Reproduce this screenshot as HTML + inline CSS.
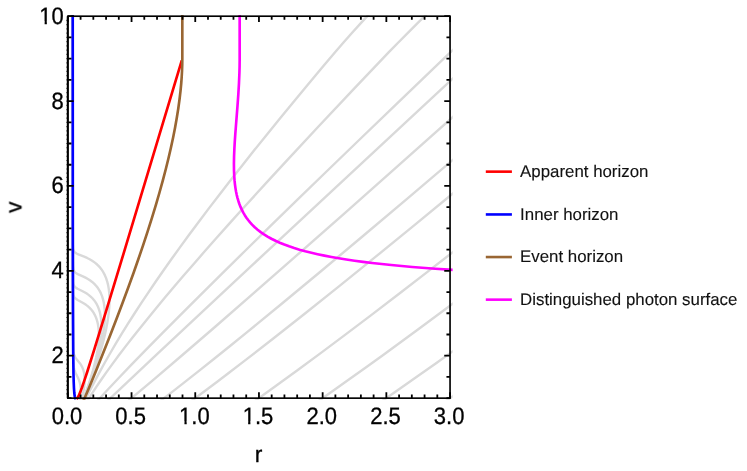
<!DOCTYPE html>
<html><head><meta charset="utf-8"><title>plot</title>
<style>
html,body{margin:0;padding:0;background:#fff;}
body{width:747px;height:471px;overflow:hidden;font-family:"Liberation Sans",sans-serif;}
svg{display:block;}
text{font-family:"Liberation Sans",sans-serif;text-rendering:geometricPrecision;}
</style></head><body>
<svg width="747" height="471" viewBox="0 0 747 471">
<rect width="747" height="471" fill="#fff"/>
<defs><filter id="idf" x="0" y="0" width="747" height="471" filterUnits="userSpaceOnUse" color-interpolation-filters="sRGB"><feOffset dx="0" dy="0"/></filter><clipPath id="cp"><rect x="65" y="14.9" width="387.6" height="384.8"/></clipPath></defs>
<g clip-path="url(#cp)" fill="none" stroke-linejoin="round">
<g stroke="#d9d9d9" stroke-width="2.4"><path d="M445.74 401.12 L455.89 394.12"/><path d="M382.06 401.12 L399.75 388.82 L417.87 376.09 L436.44 362.95 L455.74 349.16"/><path d="M318.41 401.12 L333.80 390.30 L349.93 378.85 L366.51 366.97 L383.54 354.67 L418.63 329.01 L455.81 301.44"/><path d="M254.78 401.12 L276.07 385.85 L298.47 369.52 L322.00 352.13 L346.36 333.89 L371.86 314.59 L398.76 294.02 L426.79 272.39 L455.93 249.70"/><path d="M191.23 401.12 L203.52 392.00 L216.23 382.46 L229.64 372.28 L243.48 361.67 L272.97 338.77 L304.70 313.74 L338.95 286.38 L375.45 256.91 L414.45 225.09 L455.97 190.95"/><path d="M160.16 401.12 L172.56 391.58 L185.61 381.40 L199.59 370.37 L214.49 358.49 L230.04 345.98 L246.52 332.62 L281.72 303.78 L320.34 271.75 L362.12 236.76 L407.32 198.58 L455.95 157.23"/><path d="M127.98 401.12 L152.76 380.34 L181.85 355.52 L215.51 326.47 L253.97 292.96 L297.00 255.21 L345.08 212.79 L397.96 165.92 L455.89 114.39"/><path d="M107.27 401.12 L130.57 379.06 L159.19 352.13 L233.76 282.36 L332.32 190.53 L455.81 75.79"/><path d="M97.26 401.12 L107.17 390.30 L118.72 378.00 L131.71 364.43 L146.34 349.37 L162.61 332.83 L180.53 314.80 L200.08 295.29 L221.49 274.08 L245.19 250.76 L270.54 225.94 L297.74 199.43 L327.03 171.01 L360.15 138.99 L395.36 105.06 L443.73 58.61 L455.98 46.95"/><path d="M84.58 401.12 L89.79 390.73 L94.73 381.19 L99.72 371.86 L104.87 362.53 L110.30 352.98 L115.90 343.44 L121.79 333.69 L127.84 323.93 L134.31 313.75 L141.22 303.15 L148.28 292.55 L155.78 281.52 L163.43 270.49 L171.53 259.04 L179.91 247.38 L188.74 235.29 L198.66 221.93 L209.05 208.15 L219.76 194.15 L230.95 179.73 L242.61 164.89 L254.58 149.83 L267.19 134.14 L280.12 118.24 L293.70 101.70 L307.77 84.72 L323.39 66.06 L335.06 52.27 L343.70 42.29 L352.55 32.32 L361.77 22.14 L371.19 11.96"/><path d="M87.24 401.12 L91.77 393.91 L96.49 386.70 L101.52 379.28 L106.87 371.64 L112.69 363.59 L118.82 355.32 L125.42 346.62 L132.33 337.72 L139.72 328.39 L147.58 318.63 L155.92 308.45 L164.75 297.85 L174.05 286.82 L183.65 275.58 L193.73 263.92 L204.29 251.83 L216.45 238.05 L229.31 223.63 L242.67 208.79 L256.52 193.52 L271.07 177.61 L286.31 161.07 L318.47 126.51 L353.43 89.39 L388.37 52.69 L398.07 42.72 L408.12 32.54 L418.33 22.35 L428.91 11.96"/><path d="M82.94 401.12 L86.07 393.27 L89.15 385.21 L92.10 377.15 L94.83 369.31 L97.29 361.88 L99.53 354.67 L101.57 347.68 L103.33 341.10 L104.88 334.74 L106.18 328.80 L107.31 322.86 L108.18 317.35 L108.84 312.05 L109.27 306.96 L109.49 302.08 L109.48 297.63 L109.25 293.17 L108.81 289.14 L108.10 285.11 L107.21 281.51 L106.09 278.11 L104.73 274.93 L103.14 271.96 L101.31 269.21 L99.43 266.87 L98.24 265.60 L97.14 264.54 L94.88 262.63 L92.16 260.72 L89.63 259.24 L87.10 257.97 L84.19 256.69 L78.35 254.36 L76.60 253.51 L75.58 252.88 L74.61 252.03 L74.26 251.60 L73.86 250.97 L73.36 249.70 L73.08 248.21 L72.96 246.73 L72.89 244.82 L72.84 236.97 L72.73 11.96"/><path d="M82.83 401.12 L85.41 394.54 L87.97 387.76 L90.41 380.97 L92.66 374.40 L94.72 368.03 L96.60 361.88 L98.29 355.95 L99.73 350.43 L101.04 344.92 L102.13 339.83 L103.03 334.95 L103.78 330.07 L104.31 325.62 L104.69 321.17 L104.86 317.14 L104.86 313.11 L104.67 309.29 L104.29 305.68 L103.72 302.29 L102.96 299.11 L102.03 296.14 L100.82 293.17 L99.52 290.63 L97.92 288.08 L96.29 285.96 L94.33 283.84 L92.19 281.93 L89.90 280.23 L87.89 278.96 L85.99 277.90 L83.40 276.63 L77.79 274.08 L76.27 273.24 L75.39 272.60 L74.52 271.75 L73.84 270.69 L73.38 269.42 L73.09 267.72 L72.96 266.03 L72.90 263.48 L72.86 250.97 L72.73 11.96"/><path d="M82.72 401.12 L84.93 395.39 L87.13 389.45 L89.15 383.73 L91.08 378.00 L92.83 372.49 L94.42 367.19 L95.83 362.10 L97.13 357.01 L98.21 352.34 L99.17 347.68 L99.92 343.43 L100.55 339.19 L101.01 335.16 L101.31 331.35 L101.45 327.74 L101.43 324.35 L101.26 320.95 L100.92 317.77 L100.43 314.80 L99.75 311.83 L98.89 309.08 L97.88 306.53 L96.73 304.20 L95.45 302.08 L94.07 300.17 L92.42 298.26 L90.66 296.56 L88.57 294.87 L86.73 293.60 L84.99 292.54 L82.63 291.26 L77.57 288.72 L76.19 287.87 L75.37 287.23 L74.92 286.81 L74.39 286.17 L73.79 285.11 L73.33 283.63 L73.08 281.93 L72.96 279.81 L72.91 276.21 L72.85 246.94 L72.73 11.96"/><path d="M82.61 401.12 L86.40 390.94 L88.17 385.85 L89.85 380.76 L91.37 375.88 L92.74 371.22 L93.95 366.76 L95.07 362.31 L96.03 358.07 L96.84 354.04 L97.50 350.22 L98.05 346.40 L98.45 342.80 L98.71 339.40 L98.83 336.22 L98.82 333.04 L98.68 330.07 L98.38 327.10 L97.94 324.35 L97.32 321.59 L96.62 319.26 L95.75 316.92 L94.75 314.80 L93.54 312.68 L92.21 310.77 L90.81 309.08 L89.14 307.38 L87.41 305.90 L85.99 304.84 L84.40 303.78 L82.25 302.50 L77.61 299.96 L76.30 299.11 L75.26 298.26 L74.36 297.20 L73.99 296.56 L73.71 295.93 L73.31 294.44 L73.09 292.75 L72.97 290.20 L72.92 286.17 L72.85 245.67 L72.73 11.96"/><path d="M81.02 401.12 L82.13 397.09 L83.03 393.27 L83.73 389.67 L84.23 386.27 L84.54 383.09 L84.66 379.91 L84.59 377.15 L84.31 374.40 L83.93 372.28 L83.37 370.16 L82.68 368.25 L81.80 366.34 L80.83 364.64 L79.83 363.16 L76.61 359.13 L75.67 357.86 L74.90 356.58 L74.40 355.52 L73.87 353.83 L73.52 351.92 L73.32 349.58 L73.20 346.19 L73.00 314.59 L72.86 252.66 L72.73 11.96"/><path d="M79.63 401.12 L80.36 396.88 L80.60 394.76 L80.75 392.85 L80.81 390.94 L80.78 389.24 L80.67 387.55 L80.48 385.85 L80.22 384.36 L79.88 382.88 L79.00 380.12 L77.99 377.79 L75.35 372.49 L74.68 370.79 L74.25 369.31 L73.86 367.40 L73.59 365.07 L73.41 362.10 L73.30 357.86 L73.04 324.77 L72.88 264.97 L72.77 159.14 L72.73 11.96"/></g>
<path d="M75.86 399.17 L75.52 398.85 L75.20 398.20 L74.92 397.23 L74.72 396.25 L74.30 393.01 L73.96 388.14 L73.69 381.65 L73.48 373.53 L73.17 349.51 L72.98 310.56 L72.85 249.22 L72.73 11.96" stroke="#0000ff" stroke-width="2.65"/>
<path d="M76.41 399.17 L76.85 398.85 L77.37 398.20 L77.96 397.23 L78.62 395.93 L80.14 392.36 L81.96 387.49 L84.32 380.67 L87.11 372.23 L94.70 348.22 L106.08 311.21 L122.64 256.69 L181.80 60.34" stroke="#ff0000" stroke-width="2.65"/>
<path d="M83.35 401.12 L89.16 387.41 L95.95 370.96 L102.95 353.60 L109.91 336.01 L116.37 319.33 L122.43 303.33 L128.17 287.80 L133.61 272.72 L138.57 258.55 L143.31 244.62 L147.74 231.14 L151.94 217.88 L155.83 205.09 L159.42 192.75 L162.77 180.64 L165.83 168.99 L168.48 158.25 L170.91 147.74 L173.12 137.46 L175.05 127.64 L176.76 118.04 L178.25 108.67 L179.51 99.54 L180.52 90.85 L181.17 84.00 L181.67 77.37 L182.03 70.98 L182.24 64.58 L182.31 58.87 L182.31 11.96" stroke="#996633" stroke-width="2.65"/>
<path d="M488.27 271.94 L460.14 270.38 L435.22 268.74 L412.26 266.96 L401.72 266.04 L391.28 265.04 L381.69 264.05 L372.25 262.98 L363.02 261.84 L354.56 260.70 L346.33 259.50 L338.79 258.29 L331.47 257.01 L324.40 255.65 L317.61 254.23 L311.42 252.81 L305.21 251.25 L299.56 249.68 L294.19 248.04 L289.10 246.34 L284.28 244.56 L279.75 242.71 L275.49 240.79 L271.37 238.73 L267.54 236.59 L263.99 234.39 L260.70 232.11 L257.59 229.69 L254.73 227.20 L252.06 224.57 L250.05 222.37 L248.14 220.02 L246.42 217.67 L244.78 215.18 L243.29 212.62 L241.89 209.92 L240.63 207.15 L239.48 204.23 L238.46 201.24 L237.54 198.11 L236.72 194.84 L236.02 191.43 L235.42 187.87 L234.92 184.10 L234.52 180.19 L234.23 176.14 L233.99 170.09 L233.93 163.62 L234.06 156.51 L234.38 148.68 L234.76 141.85 L235.30 134.03 L237.48 106.08 L238.30 94.63 L238.97 83.32 L239.41 73.01 L239.59 66.46 L239.66 60.20 L239.66 11.96" stroke="#ff00ff" stroke-width="2.65"/>
</g>
<g fill="none" stroke="#000">
<path d="M67.85 398.15v-5.8M67.85 16.20v5.8M80.59 398.15v-3.6M80.59 16.20v3.6M93.33 398.15v-3.6M93.33 16.20v3.6M106.07 398.15v-3.6M106.07 16.20v3.6M118.81 398.15v-3.6M118.81 16.20v3.6M131.55 398.15v-5.8M131.55 16.20v5.8M144.29 398.15v-3.6M144.29 16.20v3.6M157.03 398.15v-3.6M157.03 16.20v3.6M169.77 398.15v-3.6M169.77 16.20v3.6M182.51 398.15v-3.6M182.51 16.20v3.6M195.25 398.15v-5.8M195.25 16.20v5.8M207.99 398.15v-3.6M207.99 16.20v3.6M220.73 398.15v-3.6M220.73 16.20v3.6M233.47 398.15v-3.6M233.47 16.20v3.6M246.21 398.15v-3.6M246.21 16.20v3.6M258.95 398.15v-5.8M258.95 16.20v5.8M271.69 398.15v-3.6M271.69 16.20v3.6M284.43 398.15v-3.6M284.43 16.20v3.6M297.17 398.15v-3.6M297.17 16.20v3.6M309.91 398.15v-3.6M309.91 16.20v3.6M322.65 398.15v-5.8M322.65 16.20v5.8M335.39 398.15v-3.6M335.39 16.20v3.6M348.13 398.15v-3.6M348.13 16.20v3.6M360.87 398.15v-3.6M360.87 16.20v3.6M373.61 398.15v-3.6M373.61 16.20v3.6M386.35 398.15v-5.8M386.35 16.20v5.8M399.09 398.15v-3.6M399.09 16.20v3.6M411.83 398.15v-3.6M411.83 16.20v3.6M424.57 398.15v-3.6M424.57 16.20v3.6M437.31 398.15v-3.6M437.31 16.20v3.6M450.05 398.15v-5.8M450.05 16.20v5.8M67.85 398.15h3.6M450.05 398.15h-3.6M67.85 376.93h3.6M450.05 376.93h-3.6M67.85 355.71h5.8M450.05 355.71h-5.8M67.85 334.49h3.6M450.05 334.49h-3.6M67.85 313.27h3.6M450.05 313.27h-3.6M67.85 292.05h3.6M450.05 292.05h-3.6M67.85 270.83h5.8M450.05 270.83h-5.8M67.85 249.61h3.6M450.05 249.61h-3.6M67.85 228.39h3.6M450.05 228.39h-3.6M67.85 207.17h3.6M450.05 207.17h-3.6M67.85 185.96h5.8M450.05 185.96h-5.8M67.85 164.74h3.6M450.05 164.74h-3.6M67.85 143.52h3.6M450.05 143.52h-3.6M67.85 122.30h3.6M450.05 122.30h-3.6M67.85 101.08h5.8M450.05 101.08h-5.8M67.85 79.86h3.6M450.05 79.86h-3.6M67.85 58.64h3.6M450.05 58.64h-3.6M67.85 37.42h3.6M450.05 37.42h-3.6M67.85 16.20h5.8M450.05 16.20h-5.8" stroke-width="1.8"/>
<path d="M66.35 393.91h1M66.35 389.66h1M66.35 385.42h1M66.35 381.17h1M66.35 376.93h1M66.35 372.69h1M66.35 368.44h1M66.35 364.20h1M66.35 359.95h1M66.35 355.71h1M66.35 351.47h1M66.35 347.22h1M66.35 342.98h1M66.35 338.74h1M66.35 334.49h1M66.35 330.25h1M66.35 326.00h1M66.35 321.76h1M66.35 317.52h1M66.35 313.27h1M66.35 309.03h1M66.35 304.78h1M66.35 300.54h1M66.35 296.30h1M66.35 292.05h1M66.35 287.81h1M66.35 283.56h1M66.35 279.32h1M66.35 275.08h1M66.35 270.83h1M66.35 266.59h1M66.35 262.35h1M66.35 258.10h1M66.35 253.86h1M66.35 249.61h1M66.35 245.37h1M66.35 241.13h1M66.35 236.88h1M66.35 232.64h1M66.35 228.39h1M66.35 224.15h1M66.35 219.91h1M66.35 215.66h1M66.35 211.42h1M66.35 207.17h1M66.35 202.93h1M66.35 198.69h1M66.35 194.44h1M66.35 190.20h1M66.35 185.96h1M66.35 181.71h1M66.35 177.47h1M66.35 173.22h1M66.35 168.98h1M66.35 164.74h1M66.35 160.49h1M66.35 156.25h1M66.35 152.00h1M66.35 147.76h1M66.35 143.52h1M66.35 139.27h1M66.35 135.03h1M66.35 130.78h1M66.35 126.54h1M66.35 122.30h1M66.35 118.05h1M66.35 113.81h1M66.35 109.57h1M66.35 105.32h1M66.35 101.08h1M66.35 96.83h1M66.35 92.59h1M66.35 88.35h1M66.35 84.10h1M66.35 79.86h1M66.35 75.61h1M66.35 71.37h1M66.35 67.13h1M66.35 62.88h1M66.35 58.64h1M66.35 54.39h1M66.35 50.15h1M66.35 45.91h1M66.35 41.66h1M66.35 37.42h1M66.35 33.18h1M66.35 28.93h1M66.35 24.69h1M66.35 20.44h1" stroke-width="1.2" stroke-opacity="0.7"/><path d="M67.75 16.20V398.15" stroke-width="1.95"/>
<rect x="67.85" y="16.20" width="382.20" height="381.95" stroke-width="1.65"/>
</g>
<g font-size="22.0" fill="#000" stroke="#000" stroke-width="0.3" opacity="0.999"><text transform="translate(66.95 423.70) scale(1 1.08)" text-anchor="middle">0.0</text><text transform="translate(130.65 423.70) scale(1 1.08)" text-anchor="middle">0.5</text><text transform="translate(194.35 423.70) scale(1 1.08)" text-anchor="middle">1.0</text><text transform="translate(258.05 423.70) scale(1 1.08)" text-anchor="middle">1.5</text><text transform="translate(321.75 423.70) scale(1 1.08)" text-anchor="middle">2.0</text><text transform="translate(385.45 423.70) scale(1 1.08)" text-anchor="middle">2.5</text><text transform="translate(449.15 423.70) scale(1 1.08)" text-anchor="middle">3.0</text><text transform="translate(63.70 363.16) scale(1 1.08)" text-anchor="end">2</text><text transform="translate(63.70 278.28) scale(1 1.08)" text-anchor="end">4</text><text transform="translate(63.70 193.41) scale(1 1.08)" text-anchor="end">6</text><text transform="translate(63.70 108.53) scale(1 1.08)" text-anchor="end">8</text><text transform="translate(63.70 23.65) scale(1 1.08)" text-anchor="end">10</text>
<text x="258.6" y="461.6" text-anchor="middle" font-size="22.8">r</text>
<text transform="translate(21.4 207.2) rotate(-90)" text-anchor="middle" font-size="22.8">v</text>
</g>
<g fill="#fff"><rect x="39.81" y="21.42" width="4.81" height="3.88"/><rect x="46.86" y="21.42" width="4.63" height="3.88"/><rect x="179.63" y="421.47" width="4.81" height="3.88"/><rect x="186.69" y="421.47" width="4.63" height="3.88"/><rect x="243.33" y="421.47" width="4.81" height="3.88"/><rect x="250.39" y="421.47" width="4.63" height="3.88"/></g>
<g font-size="16.85" fill="#111" filter="url(#idf)"><path d="M485.8 171.65H511.9" stroke="#ff0000" stroke-width="2.6" fill="none"/><text x="520.1" y="176.90" stroke="#111" stroke-width="0.12">Apparent horizon</text><path d="M485.8 214.45H511.9" stroke="#0000ff" stroke-width="2.6" fill="none"/><text x="520.1" y="219.70" stroke="#111" stroke-width="0.12">Inner horizon</text><path d="M485.8 257.05H511.9" stroke="#996633" stroke-width="2.6" fill="none"/><text x="520.1" y="262.30" stroke="#111" stroke-width="0.12">Event horizon</text><path d="M485.8 299.65H511.9" stroke="#ff00ff" stroke-width="2.6" fill="none"/><text x="520.1" y="304.90" stroke="#111" stroke-width="0.12">Distinguished photon surface</text></g>
</svg>
</body></html>
